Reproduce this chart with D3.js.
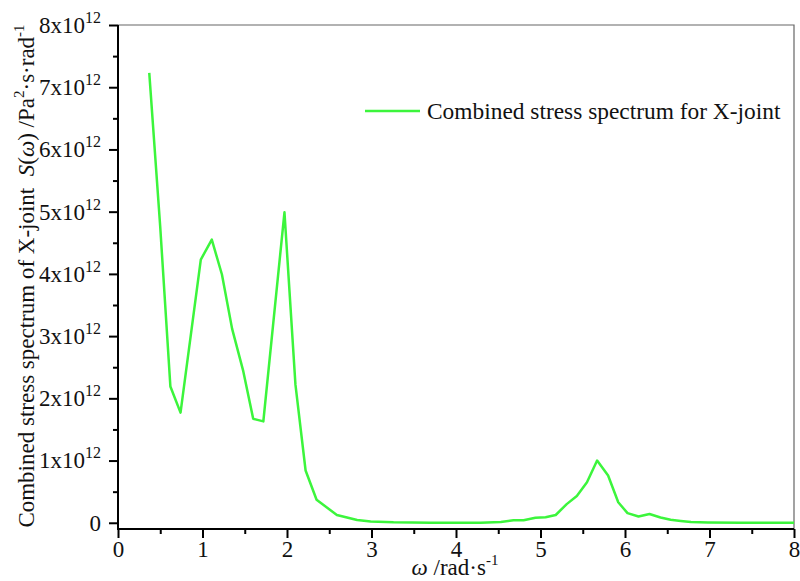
<!DOCTYPE html>
<html>
<head>
<meta charset="utf-8">
<script src="https://cdn.jsdelivr.net/npm/d3@7"></script>
<style>
  body { margin: 0; background: #fff; }
  svg { display: block; font-family: "Liberation Serif", "Times New Roman", serif; }
</style>
</head>
<body>
<div id="chart"></div>
<script>
// angular frequency (rad/s) and spectrum value (x10^12 Pa^2·s·rad^-1)
const omega = [0.37, 0.50, 0.62, 0.74, 0.98, 1.11, 1.23, 1.35, 1.48, 1.60, 1.72, 1.97, 2.10, 2.22, 2.35,
  2.59, 2.83, 2.99, 3.26, 3.70, 4.29, 4.53, 4.68, 4.80, 4.94, 5.06, 5.18, 5.31, 5.43, 5.55, 5.67,
  5.80, 5.92, 6.03, 6.16, 6.29, 6.42, 6.54, 6.66, 6.78, 6.98, 7.37, 7.65, 7.88, 8.00];
const spectrum = [7.23, 4.75, 2.19, 1.77, 4.23, 4.55, 3.99, 3.12, 2.45, 1.67, 1.63, 4.99, 2.22, 0.84, 0.37,
  0.125, 0.045, 0.022, 0.008, 0.0, 0.0, 0.011, 0.04, 0.04, 0.08, 0.09, 0.125, 0.30, 0.43, 0.65, 1.0,
  0.76, 0.33, 0.155, 0.10, 0.14, 0.085, 0.05, 0.03, 0.012, 0.005, 0.0, 0.0, 0.0, 0.0];
const xTicks = [0, 1, 2, 3, 4, 5, 6, 7, 8];
const yTicks = [0, 1, 2, 3, 4, 5, 6, 7, 8];
const seriesName = "Combined stress spectrum for X-joint";

const width = 800, height = 581;
const plotLeft = 118, plotRight = 794, plotTop = 25, plotBottom = 529;
const fs = 23;

const svg = d3.select("#chart").append("svg")
  .attr("width", width)
  .attr("height", height);

const x = d3.scaleLinear().domain([0, 8]).range([plotLeft, plotRight]);
const y = d3.scaleLinear().domain([-0.1, 8]).range([plotBottom, plotTop]);

// frame (top and right)
svg.append("path")
  .attr("d", `M${plotLeft},${plotTop}H${plotRight}V${plotBottom}`)
  .attr("fill", "none")
  .attr("stroke", "#666")
  .attr("stroke-width", 1.2);

// minor ticks
const yMinor = yTicks.slice(0, -1).map(d => d + 0.5);
const xMinor = xTicks.slice(0, -1).map(d => d + 0.5);

svg.append("g")
  .attr("transform", `translate(${plotLeft},0)`)
  .call(d3.axisLeft(y).tickValues(yMinor).tickSize(5).tickFormat("").tickSizeOuter(0))
  .call(g => g.select(".domain").remove())
  .selectAll("line").attr("stroke-width", 2);

svg.append("g")
  .attr("transform", `translate(0,${plotBottom})`)
  .call(d3.axisBottom(x).tickValues(xMinor).tickSize(5).tickFormat("").tickSizeOuter(0))
  .call(g => g.select(".domain").remove())
  .selectAll("line").attr("stroke-width", 2);

// y axis
const yAxis = svg.append("g")
  .attr("transform", `translate(${plotLeft},0)`)
  .call(d3.axisLeft(y).tickValues(yTicks).tickSize(9).tickPadding(8).tickSizeOuter(0));
yAxis.select(".domain").attr("stroke-width", 2)
  .attr("d", `M0,${plotTop}V${plotBottom + 1}`);
yAxis.selectAll("line").attr("stroke-width", 2);
yAxis.selectAll("text")
  .attr("font-family", "Liberation Serif")
  .attr("font-size", fs)
  .attr("fill", "#111")
  .each(function(d) {
    const t = d3.select(this).text("");
    if (d === 0) { t.text("0"); return; }
    t.append("tspan").text(d + "x10");
    t.append("tspan").attr("font-size", 16).attr("dy", -10).text("12");
  });

// x axis
const xAxis = svg.append("g")
  .attr("transform", `translate(0,${plotBottom})`)
  .call(d3.axisBottom(x).tickValues(xTicks).tickSize(9).tickPadding(3).tickSizeOuter(0));
xAxis.select(".domain").attr("stroke-width", 2)
  .attr("d", `M${plotLeft - 1},0H${plotRight}`);
xAxis.selectAll("line").attr("stroke-width", 2);
xAxis.selectAll("text")
  .attr("font-family", "Liberation Serif")
  .attr("font-size", fs)
  .attr("fill", "#111");

// line
const pts = omega.map((w, i) => [w, spectrum[i]]);
svg.append("path")
  .datum(pts)
  .attr("fill", "none")
  .attr("stroke", "#3cf53c")
  .attr("stroke-width", 2.5)
  .attr("stroke-linejoin", "round")
  .attr("d", d3.line().x(d => x(d[0])).y(d => y(d[1])));

// legend
svg.append("line")
  .attr("x1", 365).attr("x2", 420)
  .attr("y1", 111).attr("y2", 111)
  .attr("stroke", "#3cf53c")
  .attr("stroke-width", 2.5);
svg.append("text")
  .attr("x", 427).attr("y", 119)
  .attr("font-size", 23.4)
  .attr("fill", "#111")
  .text(seriesName);

// x axis title
const xt = svg.append("text")
  .attr("x", 455).attr("y", 575)
  .attr("text-anchor", "middle")
  .attr("font-size", fs)
  .attr("fill", "#111");
xt.append("tspan").attr("font-style", "italic").text("ω");
xt.append("tspan").text(" /rad·s");
xt.append("tspan").attr("font-size", 15).attr("dy", -10).text("-1");

// y axis title
const yt = svg.append("text")
  .attr("transform", `translate(34,${(532 + 20) / 2}) rotate(-90)`)
  .attr("text-anchor", "middle")
  .attr("font-size", fs)
  .attr("fill", "#111");
yt.append("tspan").text("Combined stress spectrum of X-joint\u00a0\u00a0");
yt.append("tspan").attr("font-style", "italic").text("S");
yt.append("tspan").text("(");
yt.append("tspan").attr("font-style", "italic").text("ω");
yt.append("tspan").text(") /Pa");
yt.append("tspan").attr("font-size", 15).attr("dy", -10).text("2");
yt.append("tspan").attr("dy", 10).text("·s·rad");
yt.append("tspan").attr("font-size", 15).attr("dy", -10).text("-1");
</script>
</body>
</html>
